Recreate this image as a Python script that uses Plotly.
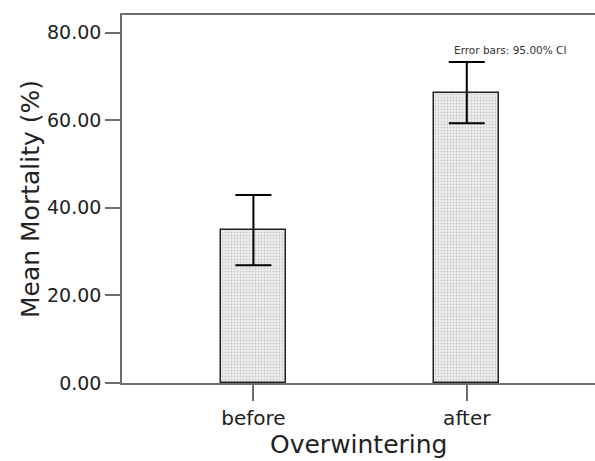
import plotly.graph_objects as go

categories = ["before", "after"]
mean_mortality = [34.9, 66.3]
ci_half = [8.0, 7.0]
y_ticks = [0, 20, 40, 60, 80]
y_tick_labels = ["0.00", "20.00", "40.00", "60.00", "80.00"]

FONT = "DejaVu Sans"
AX = "#6e6e6e"

fig = go.Figure()
fig.add_trace(go.Bar(
    x=[0, 1],
    y=mean_mortality,
    width=0.305,
    marker=dict(
        color="#e6e6e6",
        line=dict(color="#222222", width=1.5),
        pattern=dict(shape=".", fgcolor="#a0a0a0", bgcolor="#f0f0f0", size=3, solidity=0.3),
    ),
    error_y=dict(type="data", array=ci_half, visible=True, color="black", thickness=2, width=18),
    showlegend=False,
))

fig.add_annotation(
    text="Error bars: 95.00% CI", xref="paper", yref="paper",
    x=0.697, y=0.905, xanchor="left", yanchor="middle", showarrow=False,
    font=dict(family=FONT, size=10.5, color="#333333"),
)
fig.add_annotation(
    text="Overwintering", xref="paper", yref="paper",
    x=0.5, y=-0.212, xanchor="center", yanchor="bottom", showarrow=False,
    font=dict(family=FONT, size=25, color="#222222"),
)

fig.update_layout(
    width=595, height=461,
    margin=dict(l=122, r=0, t=15, b=78, autoexpand=False),
    paper_bgcolor="white", plot_bgcolor="white",
    font=dict(family=FONT, color="#222222"),
    bargap=0,
)
fig.update_xaxes(
    range=[-0.616, 1.601],
    tickvals=[0, 1], ticktext=categories,
    showline=True, linecolor=AX, linewidth=1.5, mirror=True,
    ticks="outside", ticklen=16, tickcolor=AX, tickwidth=1.5,
    showgrid=False, zeroline=False, automargin=False,
    tickfont=dict(family=FONT, size=20, color="#222222"),
)
fig.update_yaxes(
    range=[0, 84],
    tickvals=y_ticks, ticktext=y_tick_labels,
    showline=True, linecolor=AX, linewidth=1.5,
    ticks="outside", ticklen=15, tickcolor=AX, tickwidth=1.5,
    showgrid=False, zeroline=False, automargin=False,
    tickfont=dict(family=FONT, size=19, color="#222222"),
    title=dict(text="Mean Mortality (%)", font=dict(family=FONT, size=25, color="#222222"), standoff=0),
)

fig.write_html(
    "out.html",
    config={"displayModeBar": False},
    post_script="document.body.style.margin='0';document.body.style.overflow='hidden';",
)
